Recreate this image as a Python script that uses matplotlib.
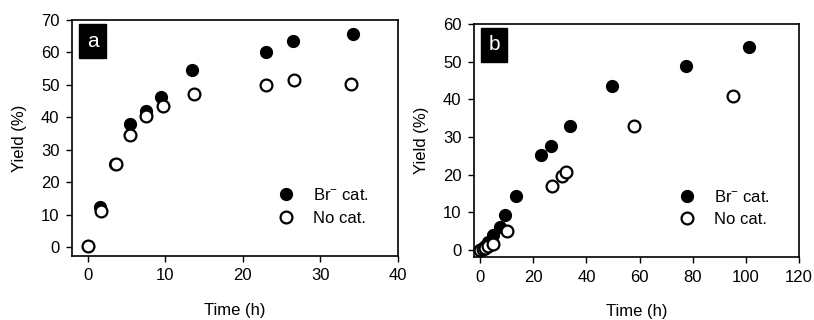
import matplotlib
matplotlib.use("Agg")
import matplotlib.pyplot as plt

plt.rcParams['font.family'] = ['Liberation Sans', 'DejaVu Sans']
plt.rcParams['mathtext.fontset'] = 'custom'
plt.rcParams['mathtext.rm'] = 'Liberation Sans'
plt.rcParams['mathtext.it'] = 'Liberation Sans'

# Panel a data
a_br_t = [0, 1.6, 3.6, 5.5, 7.5, 9.5, 13.5, 23.0, 26.5, 34.2]
a_br_y = [0.3, 12.2, 25.6, 37.8, 41.8, 46.3, 54.6, 60.0, 63.6, 65.6]
a_no_t = [0, 1.8, 3.7, 5.5, 7.5, 9.7, 13.7, 23.0, 26.6, 34.0]
a_no_y = [0.3, 11.2, 25.6, 34.5, 40.3, 43.5, 47.3, 50.0, 51.4, 50.3]

# Panel b data
b_br_t = [0, 1, 2, 3, 5, 7.5, 9.5, 13.5, 23, 26.5, 34, 49.5, 77.5, 101]
b_br_y = [0, 0.5, 1.0, 2.0, 4.0, 6.0, 9.3, 14.2, 25.3, 27.5, 33.0, 43.5, 48.8, 54.0]
b_no_t = [0, 1, 2, 3, 5, 10, 27, 31, 32.5, 58, 95]
b_no_y = [0, 0.2, 0.5, 1.0, 1.5, 5.0, 17.0, 19.7, 20.8, 33.0, 41.0]

fig = plt.figure(figsize=(8.14, 3.2), dpi=100)
W, H = 814, 320
axa = fig.add_axes([72 / W, (H - 256) / H, 326 / W, 236 / H])
axb = fig.add_axes([474 / W, (H - 257) / H, 325 / W, 233 / H])

ms = 8.5
fs = 12
for ax, bt, by, nt, ny, xlim, ylim, xt, yt, lab in [
    (axa, a_br_t, a_br_y, a_no_t, a_no_y, (-2, 40), (-2.8, 70), range(0, 41, 10), range(0, 71, 10), 'a'),
    (axb, b_br_t, b_br_y, b_no_t, b_no_y, (-2.3, 120), (-1.9, 60), range(0, 121, 20), range(0, 61, 10), 'b'),
]:
    ax.plot(bt, by, 'o', color='black', markersize=ms, linestyle='none', label='Br$^{-}$ cat.', zorder=3)
    ax.plot(nt, ny, 'o', markerfacecolor='white', markeredgecolor='black', markeredgewidth=1.6,
            markersize=ms, linestyle='none', label='No cat.', zorder=4)
    ax.set_xlim(*xlim)
    ax.set_ylim(*ylim)
    ax.set_xticks(list(xt))
    ax.set_yticks(list(yt))
    ax.tick_params(direction='out', length=4, width=1, labelsize=fs, top=False, right=False, pad=5)
    for s in ax.spines.values():
        s.set_linewidth(1.2)
    ax.set_xlabel('Time (h)', fontsize=fs, labelpad=14)
    ax.set_ylabel('Yield (%)', fontsize=fs, labelpad=10)
    ax.text(0.045, 0.91, lab, transform=ax.transAxes, color='white', fontsize=15,
            ha='left', va='center',
            bbox=dict(boxstyle='square,pad=0.35', facecolor='black', edgecolor='black'))
    leg = ax.legend(loc='center left', bbox_to_anchor=(0.605, 0.21), frameon=False, fontsize=fs,
                    handletextpad=1.0, labelspacing=0.45, borderaxespad=0, handlelength=1.2)

fig.savefig('out.png', dpi=100)
